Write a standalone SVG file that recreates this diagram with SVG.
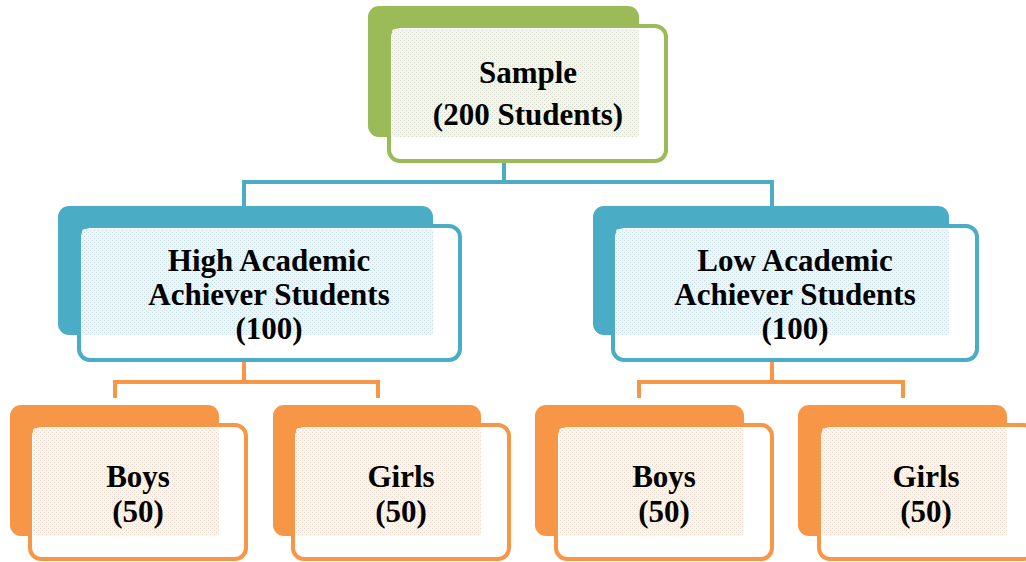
<svg xmlns="http://www.w3.org/2000/svg" width="1026" height="562" viewBox="0 0 1026 562">
  <defs>
    <pattern id="texG" width="4" height="4" patternUnits="userSpaceOnUse">
      <rect width="4" height="4" fill="#f4f5f0"/>
      <rect x="0" y="0" width="1" height="1" fill="#d6dcc8"/>
      <rect x="2" y="2" width="1" height="1" fill="#d6dcc8"/>
    </pattern>
    <pattern id="texB" width="4" height="4" patternUnits="userSpaceOnUse">
      <rect width="4" height="4" fill="#eef5f7"/>
      <rect x="0" y="0" width="1" height="1" fill="#c4dde6"/>
      <rect x="2" y="2" width="1" height="1" fill="#c4dde6"/>
    </pattern>
    <pattern id="texO" width="4" height="4" patternUnits="userSpaceOnUse">
      <rect width="4" height="4" fill="#f9f4ef"/>
      <rect x="0" y="0" width="1" height="1" fill="#ecd9c8"/>
      <rect x="2" y="2" width="1" height="1" fill="#ecd9c8"/>
    </pattern>
  </defs>
  <style>
    .back { stroke: none; }
    .front { fill: #ffffff; stroke-width: 4; }
    .g .back { fill: #9bbb59; } .g .front { stroke: #9bbb59; } .g .tex { fill: url(#texG); }
    .b .back { fill: #4bacc6; } .b .front { stroke: #4bacc6; } .b .tex { fill: url(#texB); }
    .o .back { fill: #f79646; } .o .front { stroke: #f79646; } .o .tex { fill: url(#texO); }
    .lbl { font-family: "Liberation Serif", "DejaVu Serif", serif; font-weight: bold; font-size: 31px; fill: #000000; text-anchor: middle; }
    .conn { fill: none; stroke-width: 4; stroke-linejoin: miter; }
    .connB { stroke: #4bacc6; }
    .connO { stroke: #f79646; }
  </style>

  <!-- connectors -->
  <g id="connectors">
    <path class="conn connB" d="M504,163 V182 M244,207 V182 H772 V207"/>
    <path class="conn connO" d="M244,362 V382 M115,398 V382 H378 V398"/>
    <path class="conn connO" d="M772,362 V382 M639,398 V382 H903 V398"/>
  </g>

  <!-- root -->
  <g id="sample" class="g">
    <rect class="back" x="368" y="6" width="271" height="131" rx="11"/>
    <rect class="front" x="389" y="26" width="277" height="135" rx="11"/>
    <rect class="tex" x="392" y="29" width="247" height="108" rx="3"/>
    <text class="lbl" x="528" y="83">Sample</text>
    <text class="lbl" x="528" y="125">(200 Students)</text>
  </g>

  <!-- second level -->
  <g id="high" class="b">
    <rect class="back" x="58" y="206" width="375" height="129" rx="11"/>
    <rect class="front" x="79" y="226" width="381" height="134" rx="11"/>
    <rect class="tex" x="82" y="229" width="351" height="106" rx="3"/>
    <text class="lbl" x="269" y="271">High Academic</text>
    <text class="lbl" x="269" y="305">Achiever Students</text>
    <text class="lbl" x="269" y="339">(100)</text>
  </g>

  <g id="low" class="b">
    <rect class="back" x="593" y="206" width="356" height="129" rx="11"/>
    <rect class="front" x="613" y="226" width="364" height="134" rx="11"/>
    <rect class="tex" x="616" y="229" width="333" height="106" rx="3"/>
    <text class="lbl" x="795" y="271">Low Academic</text>
    <text class="lbl" x="795" y="305">Achiever Students</text>
    <text class="lbl" x="795" y="339">(100)</text>
  </g>

  <!-- third level -->
  <g id="high-boys" class="o">
    <rect class="back" x="10" y="405" width="209" height="131" rx="11"/>
    <rect class="front" x="30" y="425" width="216" height="134" rx="11"/>
    <rect class="tex" x="33" y="428" width="186" height="108" rx="3"/>
    <text class="lbl" x="138" y="487">Boys</text>
    <text class="lbl" x="138" y="522">(50)</text>
  </g>

  <g id="high-girls" class="o">
    <rect class="back" x="273" y="405" width="208" height="131" rx="11"/>
    <rect class="front" x="293" y="425" width="216" height="134" rx="11"/>
    <rect class="tex" x="296" y="428" width="185" height="108" rx="3"/>
    <text class="lbl" x="401" y="487">Girls</text>
    <text class="lbl" x="401" y="522">(50)</text>
  </g>

  <g id="low-boys" class="o">
    <rect class="back" x="535" y="405" width="209" height="131" rx="11"/>
    <rect class="front" x="556" y="425" width="216" height="134" rx="11"/>
    <rect class="tex" x="559" y="428" width="185" height="108" rx="3"/>
    <text class="lbl" x="664" y="487">Boys</text>
    <text class="lbl" x="664" y="522">(50)</text>
  </g>

  <g id="low-girls" class="o">
    <rect class="back" x="798" y="405" width="209" height="131" rx="11"/>
    <rect class="front" x="819" y="425" width="216" height="134" rx="11"/>
    <rect class="tex" x="822" y="428" width="185" height="108" rx="3"/>
    <text class="lbl" x="926" y="487">Girls</text>
    <text class="lbl" x="926" y="522">(50)</text>
  </g>
</svg>
